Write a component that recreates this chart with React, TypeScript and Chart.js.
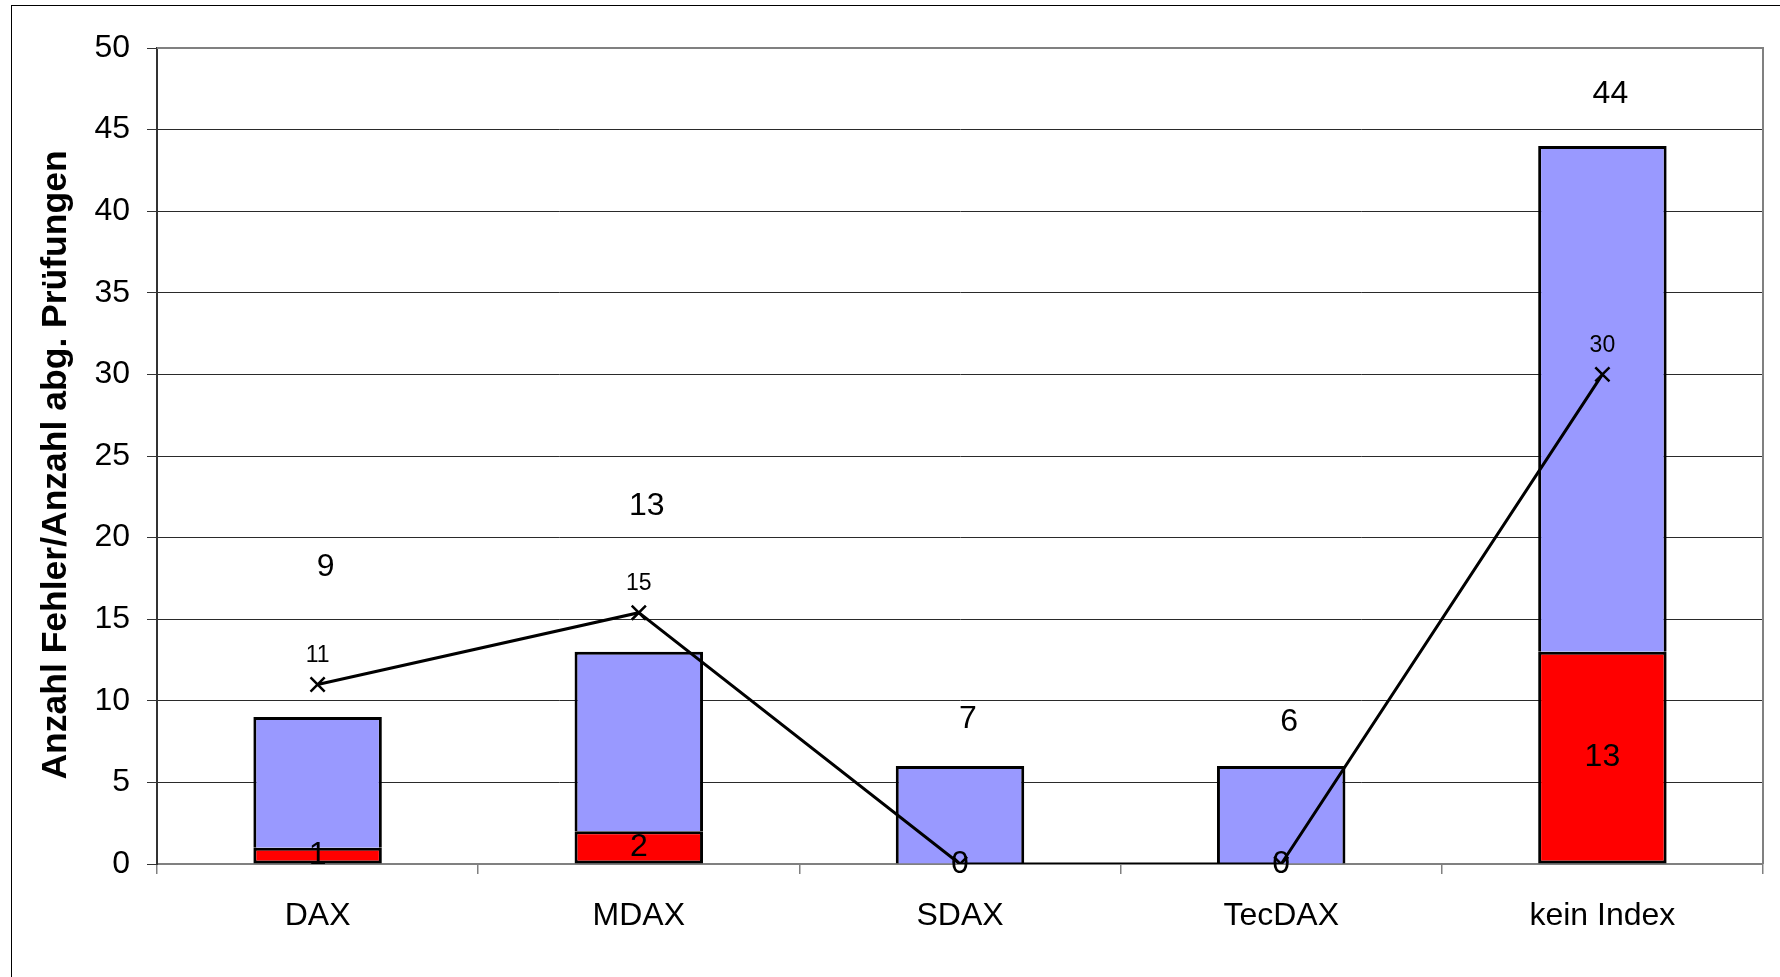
import React, { useEffect, useRef } from 'react';
import { Chart, registerables } from 'chart.js';

Chart.register(...registerables);

const categories = ['DAX', 'MDAX', 'SDAX', 'TecDAX', 'kein Index'];
const errorCounts = [1, 2, 0, 0, 13];
const otherCounts = [8, 11, 6, 6, 31];
const errorRate = [11, 15.4, 0, 0, 30];
const errorRateLabels = ['11', '15', '', '', '30'];
const totalLabels = ['9', '13', '7', '6', '44'];
const totalLabelAt = [18.2, 21.9, 8.9, 8.7, 47.2];
const yTicks = [0, 5, 10, 15, 20, 25, 30, 35, 40, 45, 50];
const yTitle = 'Anzahl Fehler/Anzahl abg. Prüfungen';

const FONT = '"Liberation Sans", Arial, sans-serif';

const labelPlugin = {
  id: 'customLabels',
  afterDatasetsDraw(chart: any) {
    const ctx = chart.ctx;
    const xs = chart.scales.x;
    const ys = chart.scales.y;
    ctx.save();
    ctx.fillStyle = '#000';
    ctx.textAlign = 'center';
    ctx.textBaseline = 'middle';
    ctx.font = `32px ${FONT}`;
    const redMeta = chart.getDatasetMeta(1);
    redMeta.data.forEach((bar: any, i: number) => {
      const p = bar.getProps(['x', 'y', 'base'], true);
      ctx.fillText(String(errorCounts[i]), p.x, (p.y + p.base) / 2);
    });
    categories.forEach((_c, i) => {
      ctx.fillText(totalLabels[i], xs.getPixelForValue(i) + 8, ys.getPixelForValue(totalLabelAt[i]));
    });
    ctx.font = `23px ${FONT}`;
    const lineMeta = chart.getDatasetMeta(0);
    lineMeta.data.forEach((pt: any, i: number) => {
      if (errorRateLabels[i]) ctx.fillText(errorRateLabels[i], pt.x, pt.y - 29);
    });
    const ca = chart.chartArea;
    ctx.font = `bold 35.5px ${FONT}`;
    ctx.translate(56, (ca.top + ca.bottom) / 2 + 9);
    ctx.rotate(-Math.PI / 2);
    ctx.fillText(yTitle, 0, 0);
    ctx.restore();
  },
};

const borderPlugin = {
  id: 'plotBorder',
  beforeDatasetsDraw(chart: any) {
    const { ctx, chartArea } = chart;
    ctx.save();
    ctx.strokeStyle = '#808080';
    ctx.lineWidth = 2;
    ctx.beginPath();
    ctx.moveTo(chartArea.left, chartArea.top);
    ctx.lineTo(chartArea.right, chartArea.top);
    ctx.lineTo(chartArea.right, chartArea.bottom);
    ctx.stroke();
    ctx.restore();
  },
};

export default function App() {
  const ref = useRef<HTMLCanvasElement | null>(null);

  useEffect(() => {
    if (!ref.current) return;
    const chart = new Chart(ref.current, {
      type: 'bar',
      data: {
        labels: categories,
        datasets: [
          {
            type: 'line',
            label: 'Fehlerquote',
            data: errorRate,
            borderColor: '#000',
            borderWidth: 3,
            pointStyle: 'crossRot',
            pointRadius: 10,
            pointBorderWidth: 2.5,
            pointBorderColor: '#000',
            fill: false,
            tension: 0,
            stack: 'line',
            order: 0,
          } as any,
          {
            type: 'bar',
            label: 'Fehler',
            data: errorCounts,
            backgroundColor: '#FF0000',
            borderColor: '#000',
            borderWidth: 3,
            borderSkipped: false,
            categoryPercentage: 0.8,
            barPercentage: 0.5,
            stack: 'bars',
            order: 1,
          },
          {
            type: 'bar',
            label: 'Prüfungen',
            data: otherCounts,
            backgroundColor: '#9999FF',
            borderColor: '#000',
            borderWidth: 3,
            borderSkipped: 'bottom',
            categoryPercentage: 0.8,
            barPercentage: 0.5,
            stack: 'bars',
            order: 2,
          },
        ],
      },
      options: {
        responsive: false,
        animation: false,
        devicePixelRatio: 1,
        layout: { padding: { left: 0, top: 48, right: 17, bottom: 0 } },
        plugins: {
          legend: { display: false },
          tooltip: { enabled: false },
        },
        scales: {
          x: {
            stacked: true,
            offset: true,
            grid: {
              offset: true,
              drawOnChartArea: false,
              drawTicks: true,
              tickLength: 10,
              color: '#808080',
              lineWidth: 1.5,
            },
            border: { display: true, color: '#808080', width: 2 },
            ticks: {
              color: '#000',
              font: { family: FONT, size: 32 },
              padding: 23,
              maxRotation: 0,
              autoSkip: false,
            },
            afterFit: (s: any) => {
              s.height = 113;
            },
          },
          y: {
            stacked: true,
            min: 0,
            max: 50,
            afterBuildTicks: (s: any) => {
              s.ticks = yTicks.map((v) => ({ value: v }));
            },
            grid: {
              color: (c: any) => (c.tick && c.tick.value === 50 ? '#808080' : '#2a2a2a'),
              lineWidth: 1,
              drawTicks: true,
              tickLength: 10,
              tickColor: '#333',
            },
            border: { display: true, color: '#333', width: 2 },
            ticks: {
              color: '#000',
              font: { family: FONT, size: 32 },
              padding: 17,
            },
            title: { display: false },
            afterFit: (s: any) => {
              s.width = 157;
            },
          },
        },
      },
      plugins: [borderPlugin, labelPlugin],
    });
    return () => chart.destroy();
  }, []);

  return (
    <div
      style={{
        position: 'fixed',
        left: 0,
        top: 0,
        width: 1780,
        height: 977,
        overflow: 'hidden',
        background: '#fff',
      }}
    >
      <canvas ref={ref} width={1780} height={977} style={{ position: 'absolute', left: 0, top: 0, width: 1780, height: 977 }} />
      <div
        style={{
          position: 'absolute',
          left: 11,
          top: 5,
          width: 1800,
          height: 1000,
          borderLeft: '1.5px solid #000',
          borderTop: '1.5px solid #000',
          pointerEvents: 'none',
        }}
      />
    </div>
  );
}
